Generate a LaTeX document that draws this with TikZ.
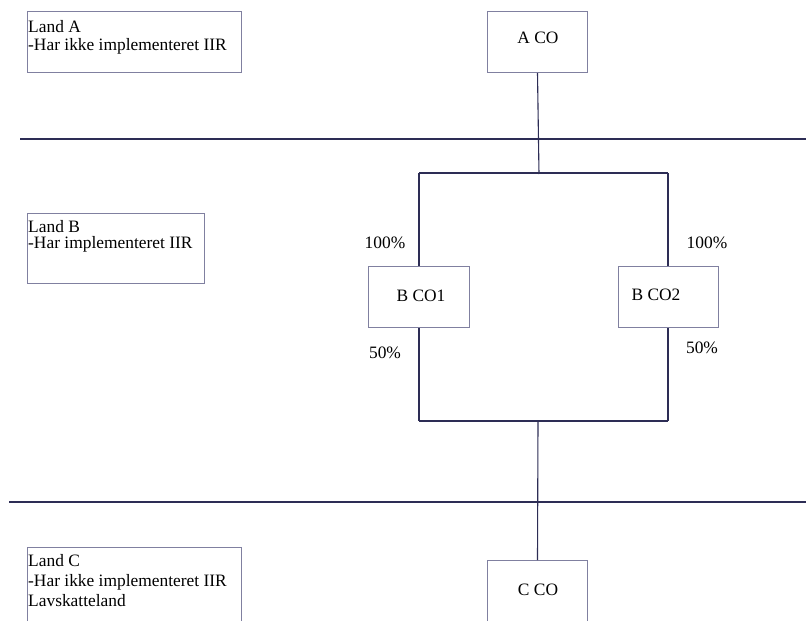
\documentclass[tikz,border=0pt]{standalone}
\usepackage{fontspec}
\setmainfont{Liberation Serif}
\definecolor{boxc}{RGB}{128,128,160}
\definecolor{linec}{RGB}{45,45,85}
\begin{document}
\begin{tikzpicture}[x=1pt,y=-1pt,
  font=\fontsize{17.4}{21}\selectfont,
  txt/.style={inner sep=0pt, text=black},
  linetxt/.style={txt, anchor=base west},
  box/.style={draw=boxc, line width=1pt, inner sep=0pt, anchor=north west},
  cobox/.style={box, minimum width=100pt, minimum height=61pt},
  conn/.style={draw=linec, line width=1.1pt},
  sep/.style={draw=linec, line width=1.1pt}]
\clip (0,0) rectangle (806,621);
\fill[white] (0,0) rectangle (806,621);

% separators
\coordinate (s1a) at (20,139);
\coordinate (s1b) at (806,139);
\coordinate (s2a) at (9,502);
\coordinate (s2b) at (806,502);
\draw[sep] (s1a) -- (s1b);
\draw[sep] (s2a) -- (s2b);

% Land boxes
\node[box, minimum width=214pt, minimum height=61pt] (landA) at (27,11) {};
\node[linetxt] (landA1) at (28,32) {Land A};
\node[linetxt] (landA2) at (28,50) {-Har ikke implementeret IIR};

\node[box, minimum width=177pt, minimum height=70pt] (landB) at (27,213) {};
\node[linetxt] (landB1) at (28,232) {Land B};
\node[linetxt] (landB2) at (28,248) {-Har implementeret IIR};

\node[box, minimum width=214pt, minimum height=90pt] (landC) at (27,547) {};
\node[linetxt] (landC1) at (28,566) {Land C};
\node[linetxt] (landC2) at (28,586) {-Har ikke implementeret IIR};
\node[linetxt] (landC3) at (28,606) {Lavskatteland};

% CO boxes
\node[cobox] (aco) at (487,11) {};
\node[txt] (acot) at (538,38) {A CO};
\node[cobox, minimum width=101pt] (bco1) at (368,266) {};
\node[txt] (bco1t) at (421,296) {B CO1};
\node[cobox] (bco2) at (618,266) {};
\node[txt] (bco2t) at (656,295) {B CO2};
\node[cobox, minimum height=80pt] (cco) at (487,560) {};
\node[txt] (ccot) at (538,590) {C CO};

% percentages
\node[txt] (p1) at (385,243) {100\%};
\node[txt] (p2) at (707,243) {100\%};
\node[txt] (p3) at (385,353) {50\%};
\node[txt] (p4) at (702,348) {50\%};

% junctions
\coordinate (topmid) at (539,174);
\coordinate (topL) at (419,173);
\coordinate (topR) at (668,173);
\coordinate (botL) at (419,421);
\coordinate (botR) at (668,421);
\coordinate (botmid) at (538,421);

\draw[conn] (aco.south) -- (topmid);
\draw[conn] (topL) -- (topR);
\draw[conn] (topL) -- (topL |- bco1.north);
\draw[conn] (topR) -- (topR |- bco2.north);
\draw[conn] (botL |- bco1.south) -- (botL);
\draw[conn] (botR |- bco2.south) -- (botR);
\draw[conn] (botL) -- (botR);
\draw[conn] (botmid) -- (cco.north);
\end{tikzpicture}
\end{document}
